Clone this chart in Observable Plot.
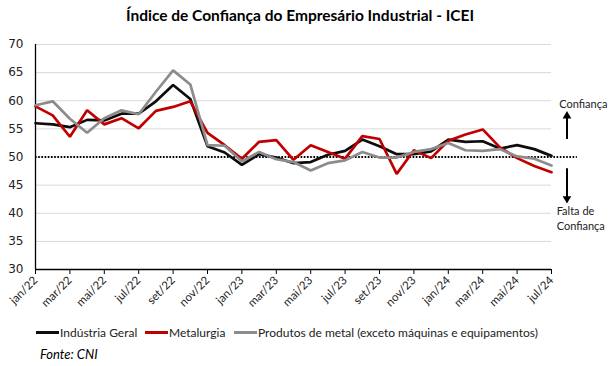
<!DOCTYPE html>
<html>
<head>
<meta charset="utf-8">
<script src="https://cdn.jsdelivr.net/npm/d3@7"></script>
<script src="https://cdn.jsdelivr.net/npm/@observablehq/plot@0.6"></script>
<style>
  body { margin: 0; width: 612px; height: 366px; background: #fff; position: relative; overflow: hidden; font-family: Lato, "Open Sans", sans-serif; }
  #title { position: absolute; left: 0; top: 4px; width: 600px; text-align: center; font-weight: bold; font-size: 15.5px; color: #000; line-height: 22px; }
  #chart { position: absolute; left: 0; top: 30px; }
  #chart svg { overflow: visible; }
  .leg { position: absolute; top: 325px; font-size: 12px; color: #222; line-height: 16px; white-space: nowrap; }
  .leg i { display: inline-block; width: 23px; height: 3px; vertical-align: middle; margin-right: 1px; position: relative; top: -1px; }
  #fonte { position: absolute; left: 40px; top: 345px; font-style: italic; font-size: 13px; color: #000; line-height: 18px; }
</style>
</head>
<body>
<div id="title">Índice de Confiança do Empresário Industrial - ICEI</div>
<div id="chart"></div>
<div class="leg" style="left:36px"><i style="background:#0d0d0d"></i>Indústria Geral</div>
<div class="leg" style="left:145px"><i style="background:#c00000"></i>Metalurgia</div>
<div class="leg" style="left:234px"><i style="background:#8c8c8c"></i>Produtos de metal (exceto máquinas e equipamentos)</div>
<div id="fonte">Fonte: CNI</div>
<script>
const months = ["jan/22","fev/22","mar/22","abr/22","mai/22","jun/22","jul/22","ago/22","set/22","out/22","nov/22","dez/22",
  "jan/23","fev/23","mar/23","abr/23","mai/23","jun/23","jul/23","ago/23","set/23","out/23","nov/23","dez/23",
  "jan/24","fev/24","mar/24","abr/24","mai/24","jun/24","jul/24"];
const industriaGeral = [56.0,55.8,55.3,56.6,56.5,57.7,57.7,59.9,62.8,60.3,51.9,50.8,48.6,50.5,49.9,48.9,49.1,50.4,51.1,53.1,51.9,50.5,50.5,51.0,53.1,52.7,52.8,51.5,52.1,51.4,50.2];
const metalurgia = [59.0,57.4,53.6,58.3,55.8,56.9,55.1,58.2,58.9,59.9,54.3,52.1,49.7,52.7,53.0,49.5,52.1,50.9,49.7,53.7,53.2,47.0,51.2,49.8,52.9,54.0,54.9,51.7,49.8,48.4,47.3];
const produtosMetal = [59.2,59.9,56.8,54.3,56.9,58.3,57.6,61.6,65.4,62.9,52.1,52.0,49.2,50.9,49.6,49.1,47.6,48.9,49.4,50.9,49.9,49.9,50.9,51.4,52.5,51.2,51.1,51.4,50.1,49.7,48.5];
const yTicks = [30,35,40,45,50,55,60,65,70];
const xTickIdx = d3.range(0, months.length, 2);
const threshold = 50;

const series = [
  {name: "Indústria Geral", values: industriaGeral, color: "#0d0d0d"},
  {name: "Metalurgia", values: metalurgia, color: "#c00000"},
  {name: "Produtos de metal (exceto máquinas e equipamentos)", values: produtosMetal, color: "#8c8c8c"}
];

const annText = [
  {x: 30.45, y: 59.4, t: "Confiança"},
  {x: 30.3, y: 40.3, t: "Falta de"},
  {x: 30.3, y: 37.6, t: "Confiança"}
];
const arrows = [
  {x: 30.9, y1: 53.2, y2: 57.3, dir: 0},
  {x: 30.9, y1: 48.0, y2: 42.6, dir: 180}
];

const plot = Plot.plot({
  width: 612,
  height: 300,
  marginLeft: 35,
  marginRight: 61,
  marginTop: 14,
  marginBottom: 61,
  x: {domain: [0, months.length - 1]},
  y: {domain: [30, 70]},
  marks: [
    Plot.ruleY(yTicks.filter(d => d > 30), {stroke: "#d9d9d9", strokeWidth: 1}),
    Plot.ruleY([{y: threshold, x1: 0, x2: 31.5}], {y: "y", x1: "x1", x2: "x2", stroke: "#000", strokeWidth: 2, strokeDasharray: "1.6,1.6"}),
    Plot.axisY({ticks: yTicks, tickSize: 0, tickPadding: 12, fontSize: 12, fontFamily: "DejaVu Sans", fill: "#222", label: null}),
    Plot.axisX({ticks: xTickIdx, tickFormat: i => months[i], tickRotate: -45, tickSize: 5, tickPadding: 4, fontSize: 11.5, fontFamily: "Lato", fill: "#222", label: null}),
    Plot.ruleX([0], {y1: 30, y2: 70, stroke: "#000", strokeWidth: 1.3}),
    Plot.ruleY([30], {stroke: "#000", strokeWidth: 1.3}),
    ...series.map(s => Plot.line(s.values.map((v, i) => ({i, v})), {x: "i", y: "v", stroke: s.color, strokeWidth: 2.7, strokeLinejoin: "miter"})),
    Plot.link(arrows, {x1: "x", x2: "x", y1: "y1", y2: "y2", stroke: "#000", strokeWidth: 2}),
    Plot.dot(arrows, {x: "x", y: "y2", symbol: "triangle", r: 3.2, fill: "#000", stroke: "none", rotate: "dir"}),
    Plot.text(annText, {x: "x", y: "y", text: "t", textAnchor: "start", fontSize: 11, fontFamily: "Lato", fill: "#222"})
  ]
});
document.getElementById("chart").appendChild(plot);
</script>
</body>
</html>
